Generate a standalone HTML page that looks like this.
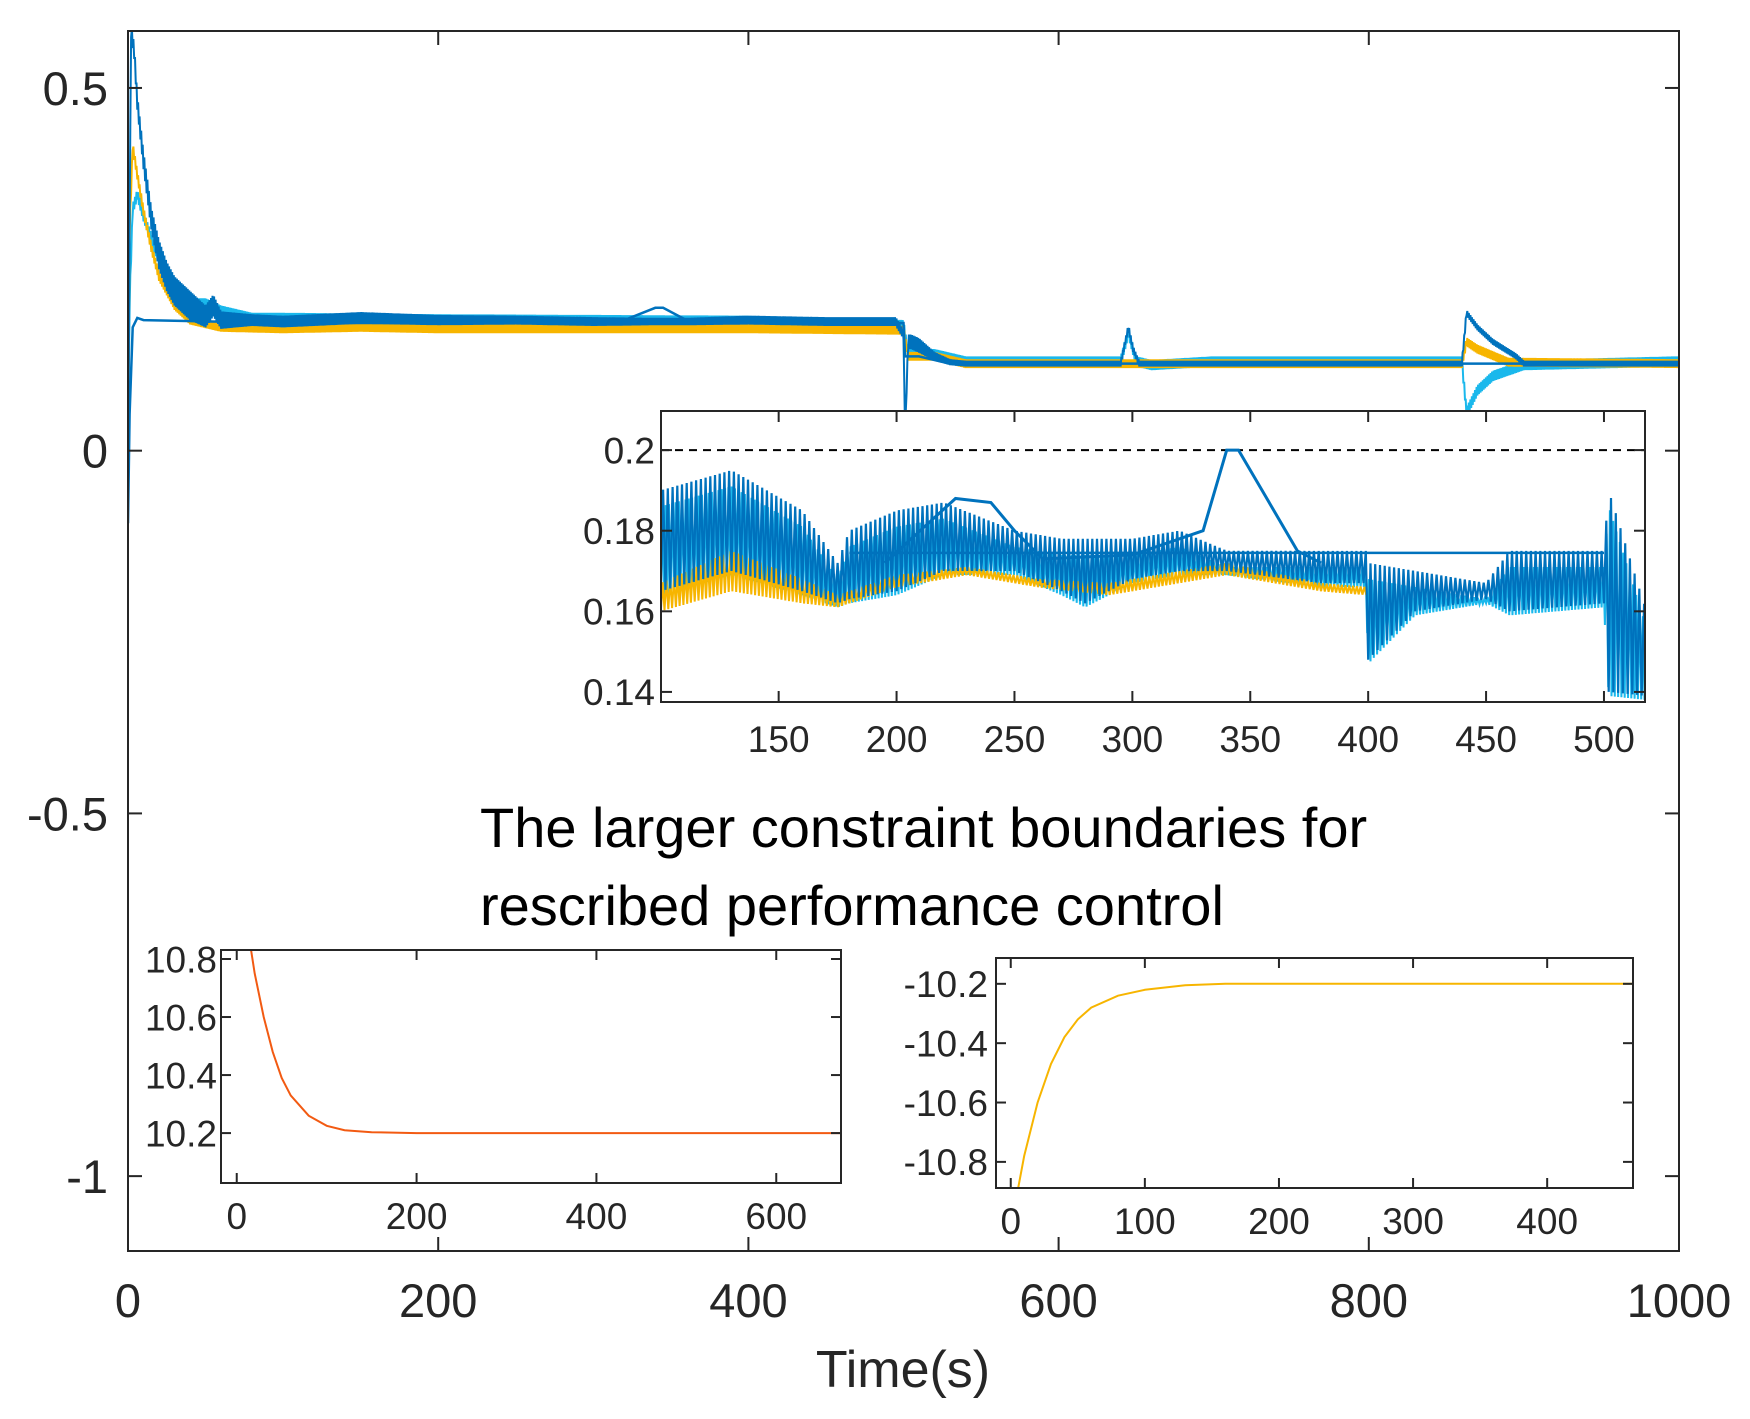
<!DOCTYPE html>
<html><head><meta charset="utf-8"><style>
html,body{margin:0;padding:0;background:#fff;}
svg{display:block;font-family:"Liberation Sans",Arial,sans-serif;}
</style></head><body>
<svg id="fig" width="1750" height="1419" viewBox="0 0 1750 1419"></svg>
<script>
// ===== MAIN CHART DATA =====
const mainXTicks=[0,200,400,600,800,1000];
const mainYTicks=[0.5,0,-0.5,-1];
const mainYTickLabels=["0.5","0","-0.5","-1"];
const blueT=[0,1,2,4,6,10,15,20,25,30,40,50,55,60,80,100,150,200,250,300,340,360,400,450,495,500,501,503,505,510,520,530,540,600,640,645,648,652,700,800,860,863,870,880,895,900,1000];
const blueV=[-0.08,0.3,0.58,0.55,0.48,0.4,0.32,0.27,0.24,0.22,0.2,0.185,0.2,0.18,0.18,0.178,0.183,0.18,0.18,0.178,0.178,0.178,0.18,0.178,0.178,0.16,0.02,0.15,0.15,0.145,0.13,0.122,0.12,0.12,0.12,0.17,0.14,0.12,0.12,0.12,0.12,0.19,0.17,0.15,0.13,0.12,0.12];
const blueA=[0,0,0.01,0.01,0.01,0.012,0.015,0.02,0.02,0.02,0.02,0.015,0.015,0.012,0.008,0.008,0.008,0.007,0.006,0.006,0.005,0.005,0.006,0.006,0.006,0.006,0,0.01,0.01,0.01,0.006,0.004,0.004,0.004,0.004,0.004,0.004,0.004,0.004,0.004,0.004,0.004,0.004,0.004,0.004,0.004,0.004];
const flatT=[0,1,3,6,10,100,200,300,320,340,345,360,400,500,501,510,530,1000];
const flatV=[-0.1,0.05,0.17,0.183,0.18,0.176,0.176,0.176,0.18,0.197,0.197,0.18,0.176,0.176,0.13,0.13,0.12,0.12];
const yelT=[0,1,3,6,10,15,20,30,40,60,100,150,200,300,400,500,503,520,540,600,860,863,870,890,1000];
const yelV=[0,0.3,0.42,0.38,0.33,0.28,0.24,0.2,0.18,0.17,0.168,0.17,0.168,0.168,0.168,0.166,0.13,0.13,0.12,0.12,0.12,0.15,0.14,0.122,0.12];
const ltT=[0,1,3,6,10,20,30,40,50,60,80,100,200,400,500,503,520,540,640,645,650,660,700,860,863,870,880,900,1000];
const ltV=[0,0.2,0.33,0.35,0.32,0.26,0.22,0.2,0.2,0.19,0.18,0.18,0.178,0.176,0.17,0.13,0.13,0.12,0.12,0.16,0.12,0.115,0.12,0.12,0.05,0.08,0.1,0.115,0.12];

// ===== INSET 1 DATA =====
const in1XTicks=[150,200,250,300,350,400,450,500];
const in1YTicks=[0.14,0.16,0.18,0.2];
const in1YTickLabels=["0.14","0.16","0.18","0.2"];
const in1BandT=[100,130,160,175,180,200,220,250,270,280,300,320,340,380,399,400,420,450,460,500,502,518];
const in1BandLo=[0.165,0.17,0.165,0.162,0.163,0.165,0.17,0.17,0.165,0.162,0.168,0.17,0.17,0.167,0.167,0.148,0.16,0.163,0.16,0.162,0.14,0.139];
const in1BandHi=[0.19,0.195,0.185,0.172,0.18,0.185,0.187,0.18,0.178,0.178,0.178,0.18,0.175,0.175,0.175,0.172,0.17,0.167,0.175,0.175,0.19,0.16];
const in1ArchT=[195,210,225,240,250,262,300,320,330,340,345,355,370,380];
const in1ArchV=[0.172,0.18,0.188,0.187,0.18,0.173,0.174,0.178,0.18,0.2,0.2,0.19,0.175,0.172];
const in1FlatT=[180,500];
const in1FlatV=[0.1745,0.1745];
const in1YelT=[100,130,160,175,200,230,260,290,320,340,380,400];
const in1YelLo=[0.16,0.165,0.162,0.161,0.166,0.169,0.166,0.164,0.167,0.169,0.165,0.164];
const in1YelHi=[0.167,0.175,0.168,0.164,0.169,0.171,0.168,0.167,0.17,0.172,0.167,0.166];
const in1Ref=0.2;

// ===== INSET 2 DATA =====
const in2XTicks=[0,200,400,600];
const in2YTicks=[10.2,10.4,10.6,10.8];
const in2T=[0,10,20,30,40,50,60,80,100,120,150,200,300,400,500,600,672];
const in2V=[11.2,10.95,10.75,10.6,10.48,10.39,10.33,10.26,10.225,10.21,10.203,10.2,10.2,10.2,10.2,10.2,10.2];

// ===== INSET 3 DATA =====
const in3XTicks=[0,100,200,300,400];
const in3YTicks=[-10.8,-10.6,-10.4,-10.2];
const in3T=[0,5,10,20,30,40,50,60,80,100,130,160,200,300,464];
const in3V=[-11.0,-10.9,-10.78,-10.6,-10.47,-10.38,-10.32,-10.28,-10.24,-10.22,-10.205,-10.2,-10.2,-10.2,-10.2];

const NS="http://www.w3.org/2000/svg";
const svg=document.getElementById('fig');
function el(tag,attrs,parent){const e=document.createElementNS(NS,tag);for(const k in attrs)e.setAttribute(k,attrs[k]);(parent||svg).appendChild(e);return e;}
function interp(T,V,t){if(t<=T[0])return V[0];for(let i=1;i<T.length;i++){if(t<=T[i]){const f=(t-T[i-1])/(T[i]-T[i-1]);return V[i-1]+f*(V[i]-V[i-1]);}}return V[V.length-1];}
function makeAxis(x0,x1,y0,y1,xmin,xmax,ymin,ymax){return {x:v=>x0+(v-xmin)/(xmax-xmin)*(x1-x0),y:v=>y1-(v-ymin)/(ymax-ymin)*(y1-y0),x0,x1,y0,y1};}
function lineFrom(ax,T,V){let d='';for(let i=0;i<T.length;i++)d+=(i?'L':'M')+ax.x(T[i]).toFixed(1)+','+ax.y(V[i]).toFixed(1);return d;}
function zigzag(ax,T,Lo,Hi,step){let d='';let k=0;for(let t=T[0];t<=T[T.length-1];t+=step){const v=(k%2)?interp(T,Hi,t):interp(T,Lo,t);d+=(k?'L':'M')+ax.x(t).toFixed(1)+','+ax.y(v).toFixed(1);k++;}return d;}
function frame(ax,name,ticksX,ticksY,labX,labY,fs,tl,g,xoff,yoff){
  const r=el('rect',{x:ax.x0,y:ax.y0,width:ax.x1-ax.x0,height:ax.y1-ax.y0,fill:'none',stroke:'#262626','stroke-width':2},g);
  
  
  ticksX.forEach((t,i)=>{const x=ax.x(t);
    el('line',{x1:x,x2:x,y1:ax.y1,y2:ax.y1-tl,stroke:'#262626','stroke-width':2},g);
    el('line',{x1:x,x2:x,y1:ax.y0,y2:ax.y0+tl,stroke:'#262626','stroke-width':2},g);
    const tx=el('text',{x:x,y:ax.y1+xoff,'font-size':fs,'text-anchor':'middle',fill:'#262626'},g);
    tx.textContent=labX[i];
    
    
  });
  ticksY.forEach((t,i)=>{const y=ax.y(t);
    el('line',{x1:ax.x0,x2:ax.x0+tl,y1:y,y2:y,stroke:'#262626','stroke-width':2},g);
    el('line',{x1:ax.x1,x2:ax.x1-tl,y1:y,y2:y,stroke:'#262626','stroke-width':2},g);
    const ty=el('text',{x:ax.x0-yoff,y:y+fs*0.36,'font-size':fs,'text-anchor':'end',fill:'#262626'},g);
    ty.textContent=labY[i];
    
    
  });
}
const C_BLUE='#0072BD',C_LT='#1AB8EC',C_YEL='#F7B500',C_RED='#F25A12';

// ===== MAIN =====
const A=makeAxis(128,1679,31,1251,0,1000,-1.1032,0.5785);
const gm=el('g',{});


el('clipPath',{id:'cm'},gm);
el('rect',{x:A.x0,y:A.y0,width:A.x1-A.x0,height:A.y1-A.y0},document.getElementById('cm'));
const gml=el('g',{'clip-path':'url(#cm)'},gm);
const loB=blueV.map((v,i)=>v-blueA[i]),hiB=blueV.map((v,i)=>v+blueA[i]);
let p=el('path',{d:zigzag(A,ltT,ltV.map(v=>v-0.004),ltV.map(v=>v+0.01),0.5),fill:'none',stroke:C_LT,'stroke-width':2},gml);

p=el('path',{d:zigzag(A,yelT,yelV.map(v=>v-0.006),yelV.map(v=>v+0.006),0.5),fill:'none',stroke:C_YEL,'stroke-width':2},gml);

p=el('path',{d:lineFrom(A,flatT,flatV),fill:'none',stroke:C_BLUE,'stroke-width':2.5},gml);

p=el('path',{d:zigzag(A,blueT,loB,hiB,0.5),fill:'none',stroke:C_BLUE,'stroke-width':2},gml);

frame(A,'main',mainXTicks,mainYTicks,mainXTicks.map(String),mainYTickLabels,47,14,gm,66,20);
let t=el('text',{x:903,y:1387,'font-size':52,'text-anchor':'middle',fill:'#262626'});
t.textContent='Time(s)';
t=el('text',{x:480,y:847,'font-size':56,fill:'#000'});
t.textContent='The larger constraint boundaries for';
t=el('text',{x:480,y:925,'font-size':56,fill:'#000'});
t.textContent='rescribed performance control';

// ===== INSET 1 =====
const B=makeAxis(661,1645,411,702,100.1,517.4,0.1375,0.2097);
const g1=el('g',{});
el('rect',{x:B.x0,y:B.y0,width:B.x1-B.x0,height:B.y1-B.y0,fill:'#fff'},g1);
el('clipPath',{id:'c1'},g1);
el('rect',{x:B.x0,y:B.y0,width:B.x1-B.x0,height:B.y1-B.y0},document.getElementById('c1'));
const g1l=el('g',{'clip-path':'url(#c1)'},g1);
p=el('line',{x1:B.x0,x2:B.x1,y1:B.y(in1Ref),y2:B.y(in1Ref),stroke:'#000','stroke-width':2,'stroke-dasharray':'8,6'},g1l);

p=el('path',{d:zigzag(B,in1BandT,in1BandLo.map(v=>v-0.001),in1BandHi.map(v=>v-0.004),0.7),fill:'none',stroke:C_LT,'stroke-width':2},g1l);

p=el('path',{d:zigzag(B,in1YelT,in1YelLo,in1YelHi,0.8),fill:'none',stroke:C_YEL,'stroke-width':2},g1l);

p=el('path',{d:zigzag(B,in1BandT,in1BandLo,in1BandHi,1.0),fill:'none',stroke:C_BLUE,'stroke-width':2.2},g1l);

p=el('path',{d:lineFrom(B,in1FlatT,in1FlatV),fill:'none',stroke:C_BLUE,'stroke-width':2.5},g1l);

p=el('path',{d:lineFrom(B,in1ArchT,in1ArchV),fill:'none',stroke:C_BLUE,'stroke-width':3},g1l);

frame(B,'inset1',in1XTicks,in1YTicks,in1XTicks.map(String),in1YTickLabels,37,11,g1,50,6);

// ===== INSET 2 =====
const Cx=makeAxis(221,841,950,1183,-17.5,672,10.028,10.831);
const g2=el('g',{});
el('rect',{x:Cx.x0,y:Cx.y0,width:Cx.x1-Cx.x0,height:Cx.y1-Cx.y0,fill:'#fff'},g2);
el('clipPath',{id:'c2'},g2);
el('rect',{x:Cx.x0,y:Cx.y0,width:Cx.x1-Cx.x0,height:Cx.y1-Cx.y0},document.getElementById('c2'));
p=el('path',{d:lineFrom(Cx,in2T,in2V),fill:'none',stroke:C_RED,'stroke-width':2,'clip-path':'url(#c2)'},g2);

frame(Cx,'inset2',in2XTicks,in2YTicks,in2XTicks.map(String),in2YTicks.map(String),37,10,g2,46,4);

// ===== INSET 3 =====
const D=makeAxis(996,1633,958,1188,-11,464,-10.888,-10.113);
const g3=el('g',{});
el('rect',{x:D.x0,y:D.y0,width:D.x1-D.x0,height:D.y1-D.y0,fill:'#fff'},g3);
el('clipPath',{id:'c3'},g3);
el('rect',{x:D.x0,y:D.y0,width:D.x1-D.x0,height:D.y1-D.y0},document.getElementById('c3'));
p=el('path',{d:lineFrom(D,in3T,in3V),fill:'none',stroke:C_YEL,'stroke-width':2,'clip-path':'url(#c3)'},g3);

frame(D,'inset3',in3XTicks,in3YTicks,in3XTicks.map(String),in3YTicks.map(String),37,10,g3,46,8);
</script>
</body></html>
